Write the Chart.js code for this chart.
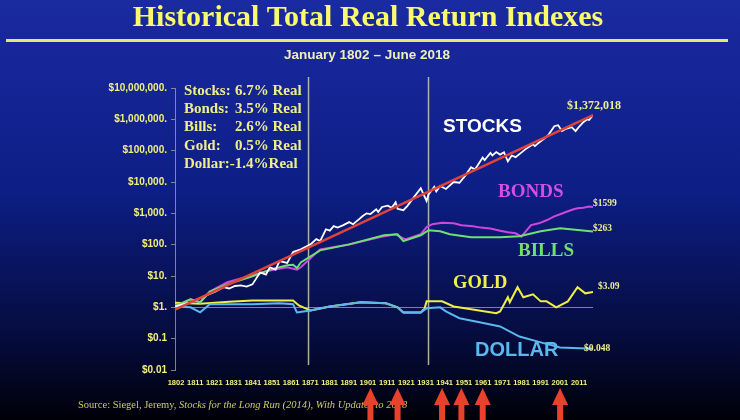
<!DOCTYPE html>
<html>
<head>
<meta charset="utf-8">
<title>Historical Total Real Return Indexes</title>
<script src="https://cdn.jsdelivr.net/npm/chart.js@4.4.1/dist/chart.umd.min.js"></script>
<style>
  html, body { margin: 0; padding: 0; background: #000; }
  #chart { display: block; }
</style>
</head>
<body>
<canvas id="chart" width="740" height="420"></canvas>
<script>
// values (real value of $1 invested in 1802)
const stockYears = [1802, 1810, 1817, 1823, 1827, 1830, 1833, 1836, 1839, 1842, 1846, 1849, 1851, 1854, 1856, 1860, 1863, 1867, 1872, 1875, 1877, 1880, 1882, 1884, 1886, 1889, 1892, 1894, 1897, 1899, 1901, 1903, 1906, 1907, 1909, 1912, 1914, 1916, 1917, 1920, 1922, 1925, 1929, 1932, 1933, 1936, 1937, 1939, 1942, 1946, 1949, 1952, 1955, 1957, 1961, 1962, 1965, 1966, 1968, 1970, 1972, 1974, 1976, 1978, 1980, 1983, 1987, 1988, 1990, 1993, 1995, 1998, 2000, 2002, 2004, 2007, 2009, 2011, 2013, 2015, 2016, 2018];
const stockValues = [1.07, 1.45, 2.24, 3.2, 4.4, 4.0, 4.8, 5.0, 4.6, 5.4, 13, 11, 19, 16, 30, 26, 58, 71, 102, 150, 130, 310, 280, 390, 350, 420, 525, 450, 640, 820, 1000, 950, 1350, 1100, 1600, 1750, 1500, 2240, 1400, 1260, 1700, 3000, 6300, 2500, 4000, 7000, 5000, 7500, 6000, 10000, 9500, 16000, 29500, 25000, 60000, 50000, 85000, 70000, 90000, 75000, 89000, 45700, 70000, 62000, 77600, 110000, 160000, 140000, 180000, 250000, 320000, 603000, 650000, 420000, 500000, 560000, 420000, 600000, 813000, 1000000, 950000, 1372018];

const trendYears = [1802, 2018];
const trendValues = [0.85, 1372018];

const bondYears = [1802, 1810, 1815, 1820, 1829, 1842, 1851, 1860, 1865, 1867, 1877, 1892, 1908, 1916, 1921, 1929, 1932, 1935, 1940, 1946, 1950, 1956, 1960, 1965, 1970, 1974, 1978, 1981, 1984, 1986, 1990, 1994, 1998, 2001, 2004, 2008, 2010, 2013, 2016, 2018];
const bondValues = [1.1, 1.8, 1.45, 3.2, 6.3, 10.5, 15, 19, 16, 19, 71, 102, 174, 214, 148, 214, 363, 450, 500, 480, 420, 390, 350, 330, 280, 250, 230, 180, 300, 420, 480, 600, 800, 933, 1100, 1350, 1450, 1500, 1650, 1599];

const billYears = [1802, 1810, 1815, 1820, 1829, 1842, 1851, 1860, 1863, 1865, 1867, 1877, 1892, 1910, 1917, 1920, 1929, 1933, 1939, 1944, 1955, 1970, 1980, 1991, 2001, 2018];
const billValues = [1.1, 1.8, 1.45, 3.2, 5.4, 9.8, 16, 22, 23, 18, 27, 66, 102, 200, 214, 129, 200, 288, 269, 214, 174, 174, 186, 269, 331, 263];

const goldYears = [1802, 1815, 1830, 1842, 1863, 1866, 1872, 1882, 1898, 1911, 1917, 1920, 1929, 1931, 1932, 1940, 1946, 1955, 1968, 1970, 1974, 1975, 1979, 1982, 1987, 1991, 1994, 1999, 2005, 2010, 2014, 2018];
const goldValues = [1.4, 1.3, 1.5, 1.66, 1.66, 1.15, 0.79, 1.07, 1.45, 1.35, 1.0, 0.69, 0.69, 0.93, 1.55, 1.55, 1.07, 0.87, 0.65, 0.74, 2.1, 1.45, 4.4, 2.1, 2.6, 1.55, 1.55, 1.0, 1.55, 4.4, 2.8, 3.09];

const dollarYears = [1802, 1810, 1815, 1820, 1842, 1856, 1863, 1865, 1872, 1882, 1898, 1911, 1917, 1920, 1929, 1932, 1939, 1942, 1949, 1960, 1970, 1980, 1991, 2001, 2018];
const dollarValues = [1.07, 1.0, 0.69, 1.26, 1.26, 1.35, 1.26, 0.69, 0.79, 1.07, 1.45, 1.35, 1.0, 0.69, 0.69, 0.93, 1.0, 0.74, 0.45, 0.33, 0.245, 0.117, 0.076, 0.052, 0.048];

const yTickValues = [0.01, 0.1, 1, 10, 100, 1000, 10000, 100000, 1000000, 10000000];
const yTickLabels = ['$0.01', '$0.1', '$1.', '$10.', '$100.', '$1,000.', '$10,000.', '$100,000.', '$1,000,000.', '$10,000,000.'];
const xTickLabels = ['1802', '1811', '1821', '1831', '1841', '1851', '1861', '1871', '1881', '1891', '1901', '1911', '1921', '1931', '1941', '1951', '1961', '1971', '1981', '1991', '2001', '2011'];

const dividerYears = [1871, 1933];
const arrowYears = [1903, 1917, 1940, 1950, 1961, 2001];

const legendLines = [
  ['Stocks:', '6.7% Real'],
  ['Bonds:', '3.5% Real'],
  ['Bills:', '2.6% Real'],
  ['Gold:', '0.5% Real'],
  ['Dollar:-1.4%Real', '']
];

const SERIF = '"Liberation Serif", "Times New Roman", serif';
const SANS = '"Liberation Sans", Arial, sans-serif';
const YELLOW = '#f2f07a';
const GRAY = 'rgba(170,170,160,0.75)';

function points(xs, ys) {
  return xs.map((x, i) => ({ x: x, y: ys[i] }));
}

function line(label, xs, ys, color, width, order) {
  return {
    label: label,
    data: points(xs, ys),
    borderColor: color,
    borderWidth: width,
    pointRadius: 0,
    tension: 0,
    fill: false,
    order: order
  };
}

const backdrop = {
  id: 'backdrop',
  beforeDraw(chart) {
    const c = chart.ctx;
    const g = c.createLinearGradient(0, 0, 0, chart.height);
    g.addColorStop(0, '#1a2aa0');
    g.addColorStop(0.45, '#0d1e86');
    g.addColorStop(0.8, '#050c3e');
    g.addColorStop(1, '#000008');
    c.save();
    c.fillStyle = g;
    c.fillRect(0, 0, chart.width, chart.height);
    c.restore();
  },
  beforeDatasetsDraw(chart) {
    const c = chart.ctx;
    const xs = chart.scales.x;
    const area = chart.chartArea;
    c.save();
    c.strokeStyle = 'rgba(205,205,175,0.85)';
    c.lineWidth = 1.5;
    dividerYears.forEach(yr => {
      const px = xs.getPixelForValue(yr);
      c.beginPath();
      c.moveTo(px, area.top - 11);
      c.lineTo(px, area.bottom - 5);
      c.stroke();
    });
    c.restore();
  },
  afterDraw(chart) {
    const c = chart.ctx;
    const xs = chart.scales.x;
    c.save();
    c.textBaseline = 'middle';

    // title
    c.textAlign = 'center';
    c.fillStyle = '#fafa6e';
    c.font = 'bold 30px ' + SERIF;
    c.fillText('Historical Total Real Return Indexes', 368, 18);
    c.fillStyle = '#e8e870';
    c.fillRect(6, 39, 722, 3);
    c.fillStyle = '#f0eeb8';
    c.font = 'bold 13.5px ' + SANS;
    c.fillText('January 1802 \u2013 June 2018', 367, 55);

    // legend box
    c.textAlign = 'left';
    c.fillStyle = '#f0ee8a';
    c.font = 'bold 15px ' + SERIF;
    legendLines.forEach((row, i) => {
      const y = 91 + i * 18.3;
      c.fillText(row[0], 184, y);
      if (row[1]) c.fillText(row[1], 235, y);
    });

    // series names
    c.font = 'bold 19px ' + SANS;
    c.fillStyle = '#ffffff';
    c.fillText('STOCKS', 443, 127);
    c.font = 'bold 19px ' + SERIF;
    c.fillStyle = '#d24fe0';
    c.fillText('BONDS', 498, 192);
    c.fillStyle = '#6fe06f';
    c.fillText('BILLS', 518, 251);
    c.font = 'bold 18.5px ' + SERIF;
    c.fillStyle = '#f0ee50';
    c.fillText('GOLD', 453, 283);
    c.font = 'bold 20px ' + SANS;
    c.fillStyle = '#5ab8f0';
    c.fillText('DOLLAR', 475, 350);

    // end values
    c.fillStyle = '#eeee90';
    c.font = 'bold 12px ' + SERIF;
    c.fillText('$1,372,018', 567, 106);
    c.font = 'bold 9.5px ' + SERIF;
    c.fillText('$1599', 593, 204);
    c.fillText('$263', 593, 229);
    c.fillText('$3.09', 598, 287);
    c.fillText('$0.048', 584, 349);

    // source
    c.fillStyle = '#cccc60';
    c.font = '10.5px ' + SERIF;
    const lead = 'Source: Siegel, Jeremy, ';
    c.fillText(lead, 78, 405);
    const w = c.measureText(lead).width;
    c.font = 'italic 10.5px ' + SERIF;
    c.fillText('Stocks for the Long Run (2014), With Updates to 2018', 78 + w, 405);

    // red arrows
    c.fillStyle = '#e8412c';
    arrowYears.forEach(yr => {
      const px = xs.getPixelForValue(yr);
      c.beginPath();
      c.moveTo(px, 388);
      c.lineTo(px + 8, 405);
      c.lineTo(px + 3, 405);
      c.lineTo(px + 3, 420);
      c.lineTo(px - 3, 420);
      c.lineTo(px - 3, 405);
      c.lineTo(px - 8, 405);
      c.closePath();
      c.fill();
    });
    c.restore();
  }
};

new Chart(document.getElementById('chart'), {
  type: 'line',
  data: {
    datasets: [
      line('Trend', trendYears, trendValues, '#e0433a', 2.5, 0),
      line('Stocks', stockYears, stockValues, '#ffffff', 1.8, 1),
      line('Dollar', dollarYears, dollarValues, '#5ab8ee', 2, 2),
      line('Bills', billYears, billValues, '#6fe06f', 2, 3),
      line('Bonds', bondYears, bondValues, '#cc48dd', 2, 4),
      line('Gold', goldYears, goldValues, '#eeee44', 2, 5)
    ]
  },
  options: {
    responsive: false,
    animation: false,
    layout: {
      padding: { top: 88, right: 147, left: 0, bottom: 0 }
    },
    plugins: {
      legend: { display: false },
      tooltip: { enabled: false }
    },
    scales: {
      x: {
        type: 'linear',
        min: 1802,
        max: 2018,
        // the year labels sit evenly spaced under the plot
        afterBuildTicks: scale => {
          const first = 1802.5, last = 2010.8;
          const step = (last - first) / (xTickLabels.length - 1);
          scale.ticks = xTickLabels.map((t, i) => ({ value: first + i * step }));
        },
        afterFit: scale => { scale.height = 50; },
        grid: { display: false, drawTicks: false },
        border: { display: false },
        ticks: {
          autoSkip: false,
          maxRotation: 0,
          padding: 8,
          color: YELLOW,
          font: { family: SANS, size: 7.5, weight: 'bold' },
          callback: (value, index) => xTickLabels[index]
        }
      },
      y: {
        type: 'logarithmic',
        min: 0.01,
        max: 10000000,
        afterBuildTicks: scale => {
          scale.ticks = yTickValues.map(v => ({ value: v }));
        },
        afterFit: scale => { scale.width = 175; },
        grid: {
          color: ctx => (ctx.tick && ctx.tick.value === 1) ? GRAY : 'transparent',
          tickColor: GRAY,
          tickLength: 4
        },
        border: { color: GRAY, width: 1 },
        ticks: {
          padding: 4,
          color: YELLOW,
          font: { family: SANS, size: 10, weight: 'bold' },
          callback: (value, index) => yTickLabels[index]
        }
      }
    }
  },
  plugins: [backdrop]
});
</script>
</body>
</html>
